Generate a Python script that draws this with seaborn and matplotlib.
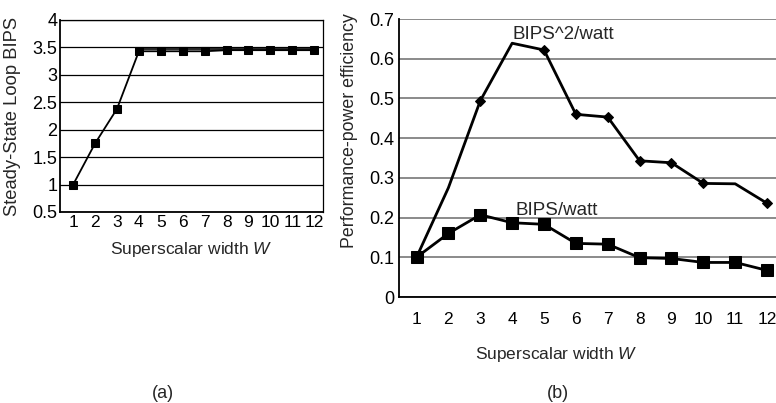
import numpy as np
import pandas as pd
import matplotlib
matplotlib.use('Agg')
import matplotlib.pyplot as plt
import seaborn as sns

# data
width = [1, 2, 3, 4, 5, 6, 7, 8, 9, 10, 11, 12]
loop_bips = [1.0, 1.75, 2.38, 3.43, 3.43, 3.43, 3.43, 3.45, 3.45, 3.45, 3.45, 3.45]
loop_bips_upper = [np.nan, np.nan, np.nan, 3.475, 3.475, 3.475, 3.475, 3.475, 3.475, 3.475, 3.475, 3.475]
bips2_watt = [0.10, 0.275, 0.494, 0.639, 0.622, 0.460, 0.453, 0.343, 0.338, 0.286, 0.285, 0.236]
bips_watt = [0.10, 0.160, 0.207, 0.187, 0.183, 0.135, 0.133, 0.099, 0.097, 0.087, 0.087, 0.067]
bips2_marked = [1, 3, 5, 6, 7, 8, 9, 10, 12]

sns.set_style('white')
plt.rcParams['font.family'] = ['Liberation Sans', 'DejaVu Sans']
plt.rcParams['mathtext.fontset'] = 'custom'
plt.rcParams['mathtext.rm'] = 'Liberation Sans'
plt.rcParams['mathtext.it'] = 'Liberation Sans:italic'

W, H = 776, 403
fig = plt.figure(figsize=(W / 100, H / 100), dpi=100)

# (a) steady-state loop BIPS
ax1 = fig.add_axes([60 / W, 1 - 212 / H, (323 - 60) / W, (212 - 20) / H])
df_a = pd.DataFrame({'W': width, 'BIPS': loop_bips, 'upper': loop_bips_upper})
sns.lineplot(data=df_a, x='W', y='upper', ax=ax1, color='black', lw=1.2)
sns.lineplot(data=df_a, x='W', y='BIPS', ax=ax1, color='black', lw=1.3,
             marker='s', markersize=6, markeredgecolor='black')
ax1.set_xlim(0.4, 12.4)
ax1.set_ylim(0.5, 4)
ax1.set_xticks(width)
ax1.set_yticks(np.arange(0.5, 4.01, 0.5))
ax1.set_yticklabels(['0.5', '1', '1.5', '2', '2.5', '3', '3.5', '4'])
ax1.yaxis.grid(True, color='black', lw=0.9)
ax1.set_axisbelow(True)
for s in ax1.spines.values():
    s.set_color('black')
    s.set_linewidth(0.9)
ax1.spines['left'].set_linewidth(1.3)
ax1.spines['bottom'].set_linewidth(1.3)
ax1.tick_params(length=0, labelsize=12.5, pad=2, colors='black')
ax1.tick_params(axis='y', labelsize=13)
ax1.set_xlabel('Superscalar width $\\it{W}$', fontsize=12.5)
ax1.set_ylabel('Steady-State Loop BIPS', fontsize=13.2)
ax1.xaxis.set_label_coords(0.5, -0.146)
ax1.yaxis.set_label_coords(-0.148, 0.5)

# (b) performance-power efficiency
ax2 = fig.add_axes([399 / W, 1 - 297 / H, (783 - 399) / W, (297 - 19) / H])
df_b = pd.DataFrame({'W': width, 'BIPS^2/watt': bips2_watt, 'BIPS/watt': bips_watt})
sns.lineplot(data=df_b, x='W', y='BIPS^2/watt', ax=ax2, color='black', lw=2,
             marker='D', markersize=5, markeredgecolor='black',
             markevery=[width.index(m) for m in bips2_marked])
sns.lineplot(data=df_b, x='W', y='BIPS/watt', ax=ax2, color='black', lw=2,
             marker='s', markersize=8.5, markeredgecolor='black')
ax2.set_xlim(0.45, 12.5)
ax2.set_ylim(0, 0.7)
ax2.set_xticks(width)
ax2.set_yticks(np.arange(0, 0.71, 0.1))
ax2.set_yticklabels(['0', '0.1', '0.2', '0.3', '0.4', '0.5', '0.6', '0.7'])
ax2.yaxis.grid(True, color='#777777', lw=1.2)
ax2.set_axisbelow(True)
for side in ['top', 'right']:
    ax2.spines[side].set_visible(False)
ax2.spines['left'].set_color('black')
ax2.spines['bottom'].set_color('black')
ax2.spines['left'].set_linewidth(1.3)
ax2.spines['bottom'].set_linewidth(1.3)
ax2.tick_params(length=0, labelsize=13, colors='black')
ax2.tick_params(axis='x', labelsize=12.5, pad=11)
ax2.set_xlabel('Superscalar width $\\it{W}$', fontsize=12.5)
ax2.set_ylabel('Performance-power efficiency', fontsize=12.8)
ax2.xaxis.set_label_coords(0.41, -0.173)
ax2.yaxis.set_label_coords(-0.107, 0.597)
ax2.text(4.0, 0.66, 'BIPS^2/watt', fontsize=13.5, va='center', ha='left')
ax2.text(4.1, 0.217, 'BIPS/watt', fontsize=13.5, va='center', ha='left')

fig.text(163 / W, 1 - 393 / H, '(a)', fontsize=13, ha='center', va='center')
fig.text(558 / W, 1 - 393 / H, '(b)', fontsize=13, ha='center', va='center')

fig.savefig('out.png', dpi=100)
plt.close(fig)
